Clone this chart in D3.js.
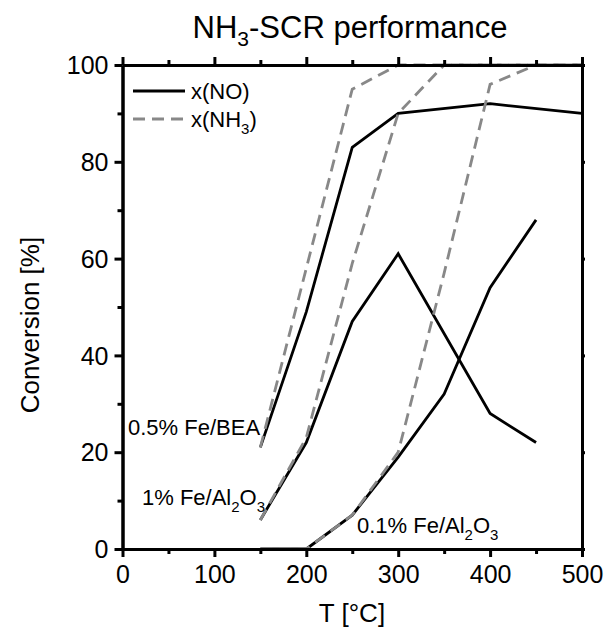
<!DOCTYPE html>
<html lang="en">
<head>
    <meta charset="utf-8">
    <title>NH3-SCR performance</title>
    <style>
        body { margin: 0; background: #fff; }
        text { font-family: Arial, "Liberation Sans", sans-serif; fill: #000; }
        .axis path, .axis line { stroke: #000; stroke-width: 3; }
        .axis text { font-size: 25px; }
    </style>
</head>
<body>
    <svg width="604" height="628"></svg>
    <script src="https://d3js.org/d3.v7.min.js"></script>
    <script>
        // 0.5% Fe/BEA
        var beaNoT = [150, 200, 250, 300, 400, 500],
            beaNo = [21, 49, 83, 90, 92, 90];
        var beaNh3T = [150, 200, 250, 300, 350, 400, 450, 500],
            beaNh3 = [21, 58, 95, 100, 100, 100, 100, 100];
        // 1% Fe/Al2O3
        var fe1NoT = [150, 200, 250, 300, 400, 450],
            fe1No = [6, 22, 47, 61, 28, 22];
        var fe1Nh3T = [150, 200, 250, 300, 350, 400, 450, 500],
            fe1Nh3 = [6, 23, 59, 90, 100, 100, 100, 100];
        // 0.1% Fe/Al2O3
        var fe01NoT = [150, 200, 250, 300, 350, 400, 450],
            fe01No = [0, 0, 7, 19, 32, 54, 68];
        var fe01Nh3T = [150, 200, 250, 300, 350, 400, 450, 500],
            fe01Nh3 = [0, 0, 7, 20, 57, 96, 100, 100];

        var xMajor = [0, 100, 200, 300, 400, 500],
            xMinor = [50, 150, 250, 350, 450],
            yMajor = [0, 20, 40, 60, 80, 100],
            yMinor = [10, 30, 50, 70, 90];

        var svg = d3.select('svg');
        var mLeft = 122.5, mRight = 582, mTop = 65, mBottom = 549;

        var x = d3.scaleLinear().domain([0, 500]).range([mLeft, mRight]);
        var y = d3.scaleLinear().domain([0, 100]).range([mBottom, mTop]);

        var line = d3.line().x(d => x(d[0])).y(d => y(d[1]));
        var zip = (t, v) => t.map((d, i) => [d, v[i]]);

        var solid = [zip(beaNoT, beaNo), zip(fe1NoT, fe1No), zip(fe01NoT, fe01No)];
        var dashed = [zip(beaNh3T, beaNh3), zip(fe1Nh3T, fe1Nh3), zip(fe01Nh3T, fe01Nh3)];

        svg.append('g').selectAll('path')
            .data(solid)
            .enter().append('path')
            .attr('d', line)
            .attr('fill', 'none')
            .attr('stroke', '#000')
            .attr('stroke-width', 2.8);

        svg.append('g').selectAll('path')
            .data(dashed)
            .enter().append('path')
            .attr('d', line)
            .attr('fill', 'none')
            .attr('stroke', '#888')
            .attr('stroke-width', 2.8)
            .attr('stroke-dasharray', '12,7');

        // axes: major + minor ticks
        function addAxis(axisFn, scale, ticks, size, tx, ty, labels) {
            var a = axisFn(scale).tickValues(ticks).tickSizeInner(size).tickSizeOuter(0);
            if (!labels) a.tickFormat('');
            return svg.append('g').attr('class', 'axis')
                .attr('transform', `translate(${tx},${ty})`)
                .call(a);
        }

        var xb = addAxis(d3.axisBottom, x, xMajor, 8, 0, mBottom, true);
        xb.selectAll('text').attr('y', 34).attr('dy', null);
        addAxis(d3.axisBottom, x, xMinor, 5, 0, mBottom, false);
        addAxis(d3.axisTop, x, xMajor, 8, 0, mTop, false);
        addAxis(d3.axisTop, x, xMinor, 5, 0, mTop, false);

        var yl = addAxis(d3.axisLeft, y, yMajor, 8, mLeft, 0, true);
        yl.selectAll('text').attr('x', -14).attr('dy', '0.35em');
        addAxis(d3.axisLeft, y, yMinor, 5, mLeft, 0, false);
        addAxis(d3.axisRight, y, yMajor, 3, mRight, 0, false);
        addAxis(d3.axisRight, y, yMinor, 2, mRight, 0, false);

        // title
        var title = svg.append('text')
            .attr('x', 350).attr('y', 38)
            .attr('text-anchor', 'middle')
            .style('font-size', '31px');
        title.append('tspan').text('NH');
        title.append('tspan').text('3').style('font-size', '21px').attr('dy', 8);
        title.append('tspan').text('-SCR performance').attr('dy', -8);

        // axis titles
        svg.append('text')
            .attr('x', 352).attr('y', 622)
            .attr('text-anchor', 'middle')
            .style('font-size', '26px')
            .text('T [°C]');
        svg.append('text')
            .attr('transform', 'translate(39,325) rotate(-90)')
            .attr('text-anchor', 'middle')
            .style('font-size', '26px')
            .text('Conversion [%]');

        // legend
        var legend = svg.append('g');
        legend.append('line')
            .attr('x1', 133).attr('x2', 185).attr('y1', 91).attr('y2', 91)
            .attr('stroke', '#000').attr('stroke-width', 2.8);
        legend.append('line')
            .attr('x1', 133).attr('x2', 185).attr('y1', 119).attr('y2', 119)
            .attr('stroke', '#888').attr('stroke-width', 2.8)
            .attr('stroke-dasharray', '12,7');
        legend.append('text')
            .attr('x', 191).attr('y', 99)
            .style('font-size', '22px')
            .text('x(NO)');
        var l2 = legend.append('text')
            .attr('x', 191).attr('y', 127)
            .style('font-size', '22px');
        l2.append('tspan').text('x(NH');
        l2.append('tspan').text('3').style('font-size', '15px').attr('dy', 7);
        l2.append('tspan').text(')').attr('dy', -7);

        // sample labels: parts are [text, dy, subscript]
        function subLabel(tx, ty, parts) {
            var t = svg.append('text').attr('x', tx).attr('y', ty).style('font-size', '22px');
            parts.forEach(p => {
                var s = t.append('tspan').text(p[0]).attr('dy', p[1]);
                if (p[2]) s.style('font-size', '15px');
            });
        }
        subLabel(128, 435, [['0.5% Fe/BEA', 0, false]]);
        subLabel(142, 505, [['1% Fe/Al', 0, false], ['2', 7, true], ['O', -7, false], ['3', 7, true]]);
        subLabel(357, 533, [['0.1% Fe/Al', 0, false], ['2', 7, true], ['O', -7, false], ['3', 7, true]]);
    </script>
</body>
</html>
